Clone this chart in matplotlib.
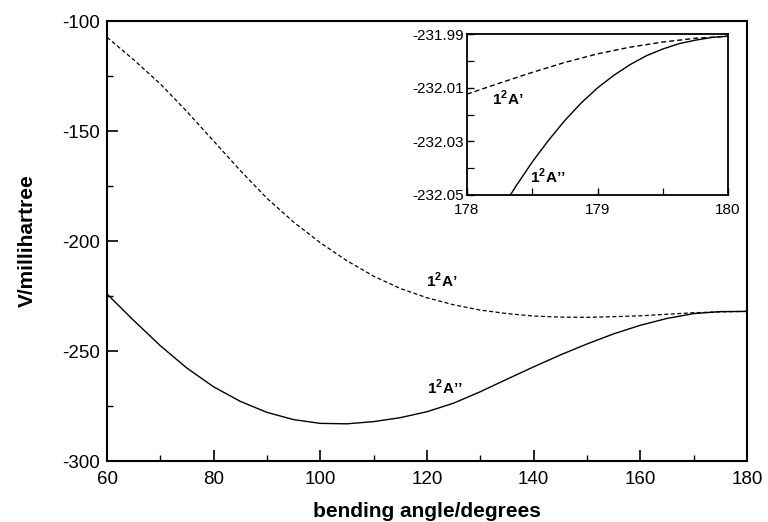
import numpy as np
import matplotlib.pyplot as plt

plt.rcParams['font.family'] = ['Liberation Sans', 'DejaVu Sans']
plt.rcParams['axes.unicode_minus'] = False
plt.rcParams['mathtext.fontset'] = 'custom'
plt.rcParams['mathtext.bf'] = 'Liberation Sans:bold'
plt.rcParams['mathtext.rm'] = 'Liberation Sans'

# main curves (bending angle in degrees, energy in millihartree)
angle = [60, 65, 70, 75, 80, 85, 90, 95, 100, 105, 110, 115, 120, 125, 130, 135,
         140, 145, 150, 155, 160, 165, 170, 175, 180]
a_prime = [-107.4, -117.6, -128.6, -141.2, -154.6, -168.0, -180.6, -191.4, -200.8,
           -209.0, -216.0, -221.6, -225.8, -229.0, -231.4, -233.0, -234.1, -234.6,
           -234.7, -234.4, -234.0, -233.3, -232.6, -232.2, -232.0]
a_dprime = [-224.1, -236.1, -247.6, -257.8, -266.3, -272.9, -277.9, -281.2, -282.9,
            -283.1, -282.1, -280.3, -277.6, -273.7, -268.5, -262.8, -257.2, -251.8,
            -246.8, -242.2, -238.3, -235.2, -233.0, -232.1, -232.0]

# inset close to linearity
angle_in = [178.0, 178.25, 178.5, 178.75, 179.0, 179.25, 179.5, 179.75, 180.0]
a_prime_in = [-232.0124, -232.0083, -232.0043, -232.0006, -231.9974, -231.9949,
              -231.9930, -231.9916, -231.9908]
angle_in2 = [178.33, 178.375, 178.5, 178.625, 178.75, 178.875, 179.0, 179.125,
             179.25, 179.375, 179.5, 179.625, 179.75, 179.875, 180.0]
a_dprime_in = [-232.0502, -232.0467, -232.0377, -232.0296, -232.0222, -232.0157,
               -232.0101, -232.0054, -232.0014, -231.9981, -231.9956, -231.9936,
               -231.9923, -231.9913, -231.9908]

fig = plt.figure(figsize=(7.68, 5.22), dpi=100)
ax = fig.add_axes([107/768, 1 - 461/522, 640/768, 440/522])

ax.plot(angle, a_prime, color='black', lw=0.9, ls=(0, (3.2, 2.0)))
ax.plot(angle, a_dprime, color='black', lw=1.0)
ax.set_xlim(60, 180)
ax.set_ylim(-300, -100)
ax.set_xticks(np.arange(60, 181, 20))
ax.set_xticks(np.arange(60, 181, 10), minor=True)
ax.set_yticks(np.arange(-300, -99, 50))
ax.set_yticks(np.arange(-300, -99, 25), minor=True)
ax.tick_params(direction='in', length=8, width=1.2, labelsize=13.5)
ax.tick_params(axis='x', pad=7)
ax.tick_params(axis='y', pad=5)
ax.tick_params(which='minor', direction='in', length=4, width=1.0)
for s in ax.spines.values():
    s.set_linewidth(1.5)
ax.set_xlabel('bending angle/degrees', fontsize=15, fontweight='bold', labelpad=10)
ax.set_ylabel('V/millihartree', fontsize=15, fontweight='bold', labelpad=18)

ax.text(122.8, -217.7, "1$^{\\mathbf{2}}$A\u2019", fontsize=11, fontweight='bold',
        ha='center', va='center')
ax.text(123.4, -266.4, "1$^{\\mathbf{2}}$A\u2019\u2019", fontsize=11, fontweight='bold',
        ha='center', va='center')

# inset
ins = fig.add_axes([467/768, 1 - 195/522, 261/768, 161/522])
ins.plot(angle_in, a_prime_in, color='black', lw=1.0, ls=(0, (3.6, 2.2)))
ins.plot(angle_in2, a_dprime_in, color='black', lw=1.0)
ins.set_xlim(178, 180)
ins.set_ylim(-232.05, -231.99)
ins.set_xticks([178, 179, 180])
ins.set_xticks([178.5, 179.5], minor=True)
ins.set_yticks([-232.05, -232.03, -232.01, -231.99])
ins.set_yticks([-232.04, -232.02, -232.00], minor=True)
ins.set_yticklabels(['-232.05', '-232.03', '-232.01', '-231.99'])
ins.tick_params(direction='in', length=5, width=1.0, labelsize=11)
ins.tick_params(axis='x', pad=6)
ins.tick_params(axis='y', pad=2)
ins.tick_params(which='minor', direction='in', length=5, width=0.9)
for s in ins.spines.values():
    s.set_linewidth(1.3)
ins.text(178.31, -232.0139, "1$^{\\mathbf{2}}$A\u2019", fontsize=11, fontweight='bold',
         ha='center', va='center')
ins.text(178.62, -232.043, "1$^{\\mathbf{2}}$A\u2019\u2019", fontsize=11, fontweight='bold',
         ha='center', va='center')

fig.savefig('out.png', dpi=100)
